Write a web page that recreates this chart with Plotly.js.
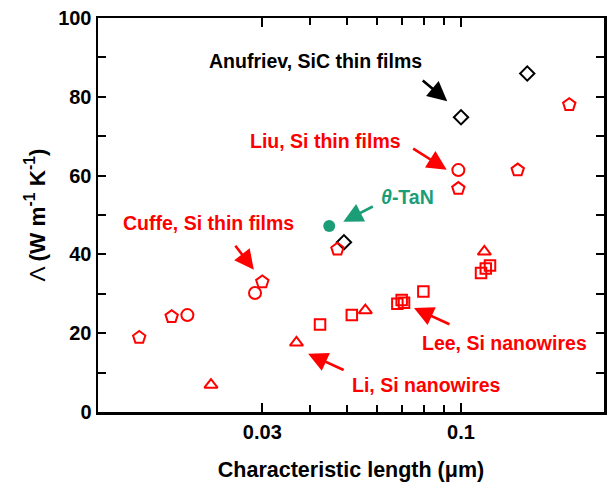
<!DOCTYPE html>
<html>
<head>
<meta charset="utf-8">
<script src="https://cdn.plot.ly/plotly-3.0.1.min.js"></script>
<style>html,body{margin:0;padding:0;background:#fff;}#chart{width:607px;height:482px;}</style>
</head>
<body>
<div id="chart"></div>
<script>
// Characteristic length (µm) and thermal conductivity (W m^-1 K^-1)
var anufrievX = [0.0492, 0.1, 0.1494];
var anufrievY = [43.1, 74.8, 85.9];

var pentagonX = [0.01423, 0.01732, 0.0300, 0.0473, 0.0984, 0.141, 0.1927];
var pentagonY = [18.9, 24.2, 33.0, 41.3, 56.7, 61.4, 78.0];

var cuffeX = [0.01905, 0.0287];
var cuffeY = [24.6, 30.2];

var liuX = [0.0984];
var liuY = [61.4];

var liX = [0.02198, 0.0369, 0.0560, 0.1152];
var liY = [6.9, 17.6, 25.8, 40.7];

var leeX = [0.04256, 0.0516, 0.0680, 0.0698, 0.0708, 0.0796, 0.1129, 0.1162, 0.1192];
var leeY = [22.2, 24.6, 27.5, 28.4, 27.7, 30.6, 35.3, 36.4, 37.2];

var tanX = [0.045];
var tanY = [47.2];

var xTickVals = [0.03, 0.1];
var xTickText = ['0.03', '0.1'];
var xMinorVals = [0.04, 0.05, 0.06, 0.07, 0.08, 0.09];
var yTickVals = [0, 20, 40, 60, 80, 100];

var RED = '#ff0000';
var GREEN = '#1b9e77';
var FONT = 'Liberation Sans, Arial, sans-serif';

function openTrace(x, y, name, symbol, size, color) {
  return {x: x, y: y, name: name, type: 'scatter', mode: 'markers',
    marker: {symbol: symbol, size: size, color: color, line: {color: color, width: 2}},
    cliponaxis: false};
}

var data = [
  openTrace(anufrievX, anufrievY, 'Anufriev, SiC thin films', 'diamond-open', 11, '#000000'),
  openTrace(pentagonX, pentagonY, 'Si thin films', 'pentagon-open', 13, RED),
  openTrace(cuffeX, cuffeY, 'Cuffe, Si thin films', 'circle-open', 12, RED),
  openTrace(liuX, liuY, 'Liu, Si thin films', 'circle-open', 12, RED),
  openTrace(liX, liY, 'Li, Si nanowires', 'triangle-up-open', 11.5, RED),
  openTrace(leeX, leeY, 'Lee, Si nanowires', 'square-open', 10.5, RED),
  {x: tanX, y: tanY, name: 'θ-TaN', type: 'scatter', mode: 'markers',
    marker: {symbol: 'circle', size: 12, color: GREEN}}
];

function lg(v) { return Math.log10(v); }

function label(text, x, y, color) {
  return {text: text, x: lg(x), y: y, xref: 'x', yref: 'y', showarrow: false,
    xanchor: 'center', yanchor: 'middle',
    font: {family: FONT, size: 19.5, color: color, weight: 'bold'}};
}
function arrow(x, y, ax, ay, color) {
  return {text: ' ', x: lg(x), y: y, xref: 'x', yref: 'y', showarrow: true,
    ax: ax, ay: ay, arrowhead: 2, arrowsize: 1.5, arrowwidth: 2.6, arrowcolor: color,
    font: {size: 1}, standoff: 0, startstandoff: 0};
}

var annotations = [
  label('Anufriev, SiC thin films', 0.0414, 89.0, '#000000'),
  arrow(0.0920, 78.9, -26, -22, '#000000'),
  label('Liu, Si thin films', 0.0441, 68.7, RED),
  arrow(0.0917, 61.5, -35, -22, RED),
  label('<i>θ</i>-TaN', 0.0725, 54.6, GREEN),
  arrow(0.0490, 48.3, 31, -16, GREEN),
  label('Cuffe, Si thin films', 0.0216, 47.9, RED),
  arrow(0.0285, 36.1, -20, -26, RED),
  label('Lee, Si nanowires', 0.1303, 17.6, RED),
  arrow(0.0752, 26.4, 37, 17, RED),
  label('Li, Si nanowires', 0.0809, 6.8, RED),
  arrow(0.0396, 14.8, 37, 17, RED)
];

var layout = {
  width: 607, height: 482,
  margin: {l: 98, r: 3, t: 18, b: 70},
  paper_bgcolor: '#ffffff', plot_bgcolor: '#ffffff',
  showlegend: false,
  font: {family: FONT, size: 20, color: '#000000'},
  xaxis: {
    type: 'log', range: [-1.9553, -0.6237],
    tickmode: 'array', tickvals: xTickVals, ticktext: xTickText,
    ticks: 'inside', ticklen: 9, tickwidth: 2, tickcolor: '#000',
    minor: {tickmode: 'array', tickvals: xMinorVals, ticks: 'inside', ticklen: 7, tickwidth: 2, tickcolor: '#000', showgrid: false},
    showline: true, linewidth: 2.5, linecolor: '#000', mirror: 'ticks',
    showgrid: false, zeroline: false,
    tickfont: {family: FONT, size: 20, weight: 'bold'},
    title: {text: 'Characteristic length (μm)', font: {family: FONT, size: 21.5, weight: 'bold'}, standoff: 23},
    automargin: false
  },
  yaxis: {
    range: [0, 100],
    tickmode: 'array', tickvals: yTickVals,
    ticks: 'inside', ticklen: 8, tickwidth: 2, tickcolor: '#000',
    minor: {dtick: 10, ticks: 'inside', ticklen: 8, tickwidth: 2, tickcolor: '#000', showgrid: false},
    showline: true, linewidth: 2.5, linecolor: '#000', mirror: 'ticks',
    showgrid: false, zeroline: false,
    tickfont: {family: FONT, size: 20, weight: 'bold'},
    title: {text: 'Λ <b>(W m<sup>-1</sup> K<sup>-1</sup>)</b>', font: {family: FONT, size: 22.5, weight: 'normal'}, standoff: 7},
    automargin: false
  },
  annotations: annotations
};

Plotly.newPlot('chart', data, layout, {displayModeBar: false, staticPlot: true});
</script>
</body>
</html>
